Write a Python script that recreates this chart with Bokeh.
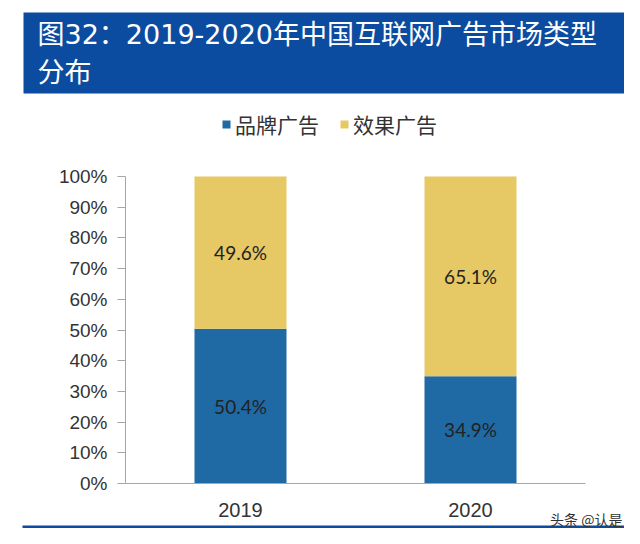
from bokeh.plotting import figure
from bokeh.models import (ColumnDataSource, Range1d, FixedTicker, LinearAxis,
                          PrintfTickFormatter, Legend, LegendItem, LabelSet,
                          Label, BoxAnnotation)
from bokeh.core.properties import value
from bokeh.embed import file_html
from bokeh.resources import INLINE

# ---- data ----
years = [2019, 2020]
brand = [50.4, 34.9]     # 品牌广告
effect = [49.6, 65.1]    # 效果广告
series_names = ["品牌广告", "效果广告"]
y_ticks = [0, 10, 20, 30, 40, 50, 60, 70, 80, 90, 100]
title_line1 = "图32：2019-2020年中国互联网广告市场类型"
title_line2 = "分布"
watermark = "头条 @认是"

BLUE = "#1F69A5"
YELLOW = "#E6C864"
HEAD = "#0C4CA0"
NUM_FONT = "Liberation Sans"
LAB_FONT = "Lato"
CJK_FONT = "Noto Sans CJK SC"
TITLE_FONT = "DejaVu Sans, Noto Sans CJK SC"

W, H = 624, 528
# layout of the plotting area (pixels): axis box from x=125..585, y=176..483
PX_PER_YEAR = 230.0
PX_PER_PCT = 3.07
X0_PX, Y0_PX = 240.0, 483.0          # pixel of first category / of 0%
x_start = years[0] - X0_PX / PX_PER_YEAR
y_start = -(H - Y0_PX) / PX_PER_PCT

p = figure(width=W, height=H, output_backend="svg", toolbar_location=None,
           x_range=Range1d(x_start, x_start + W / PX_PER_YEAR),
           y_range=Range1d(y_start, y_start + H / PX_PER_PCT),
           x_axis_location=None, y_axis_location=None,
           min_border=0, min_border_left=0, min_border_right=0,
           min_border_top=0, min_border_bottom=0)
p.outline_line_color = None
p.xgrid.grid_line_color = None
p.ygrid.grid_line_color = None

source = ColumnDataSource(dict(year=years, brand=brand, effect=effect))
rs = p.vbar_stack(["brand", "effect"], x="year", width=0.4,
                  color=[BLUE, YELLOW], line_color=None, source=source)

axis_left = years[0] - 0.5
axis_right = years[-1] + 0.5

ya = LinearAxis(fixed_location=axis_left, bounds=(0, 100),
                ticker=FixedTicker(ticks=y_ticks),
                formatter=PrintfTickFormatter(format="%d%%"))
ya.axis_line_color = "#A6A6A6"
ya.major_tick_line_color = "#A6A6A6"
ya.major_tick_out = 8
ya.major_tick_in = 0
ya.minor_tick_line_color = None
ya.major_label_standoff = 10
ya.major_label_text_font = NUM_FONT
ya.major_label_text_font_size = "19px"
ya.major_label_text_color = "#333333"
p.add_layout(ya, "left")

xa = LinearAxis(fixed_location=0, bounds=(axis_left, axis_right),
                ticker=FixedTicker(ticks=years),
                formatter=PrintfTickFormatter(format="%d"))
xa.axis_line_color = "#A6A6A6"
xa.major_tick_line_color = None
xa.minor_tick_line_color = None
xa.major_label_standoff = 13
xa.major_label_text_font = NUM_FONT
xa.major_label_text_font_size = "20px"
xa.major_label_text_color = "#333333"
p.add_layout(xa, "below")

# value labels in the middle of each segment
lab_x, lab_y, lab_t = [], [], []
for i, yr in enumerate(years):
    lab_x += [yr, yr]
    lab_y += [brand[i] / 2, brand[i] + effect[i] / 2]
    lab_t += ["%.1f%%" % brand[i], "%.1f%%" % effect[i]]
lsrc = ColumnDataSource(dict(x=lab_x, y=lab_y, t=lab_t))
p.add_layout(LabelSet(x="x", y="y", text="t", source=lsrc,
                      text_align="center", text_baseline="middle",
                      text_font=value(LAB_FONT), text_font_size=value("19px"),
                      text_color="#222222"))

# legend (screen position relative to the canvas bottom-left)
legend = Legend(items=[LegendItem(label=series_names[0], renderers=[rs[0]]),
                       LegendItem(label=series_names[1], renderers=[rs[1]])],
                orientation="horizontal", location=(221, 389),
                padding=0, margin=0, spacing=20, label_standoff=4,
                glyph_width=10, glyph_height=10,
                label_text_font=CJK_FONT, label_text_font_size="21px",
                label_text_color="#333333",
                border_line_color=None, background_fill_alpha=0)
p.add_layout(legend, "center")

# header band + title
p.add_layout(BoxAnnotation(left=23, right=W, top=H - 12, bottom=H - 93,
                           left_units="screen", right_units="screen",
                           top_units="screen", bottom_units="screen",
                           fill_color=HEAD, fill_alpha=1, line_color=None))
for txt, yc in [(title_line1, 34), (title_line2, 72)]:
    p.add_layout(Label(x=37, y=H - yc, x_units="screen", y_units="screen",
                       text=txt, text_color="white", text_font=TITLE_FONT,
                       text_font_size="27px", text_baseline="middle",
                       text_align="left"))

# bottom rule and watermark
p.add_layout(BoxAnnotation(left=22, right=W, top=3, bottom=0,
                           left_units="screen", right_units="screen",
                           top_units="screen", bottom_units="screen",
                           fill_color=HEAD, fill_alpha=1, line_color=None))
p.add_layout(Label(x=W - 2, y=H - 518, x_units="screen", y_units="screen",
                   text=watermark, text_color="#333333", text_font=CJK_FONT,
                   text_font_size="14px", text_baseline="middle",
                   text_align="right"))

open("out.html", "w").write(file_html(p, INLINE))
